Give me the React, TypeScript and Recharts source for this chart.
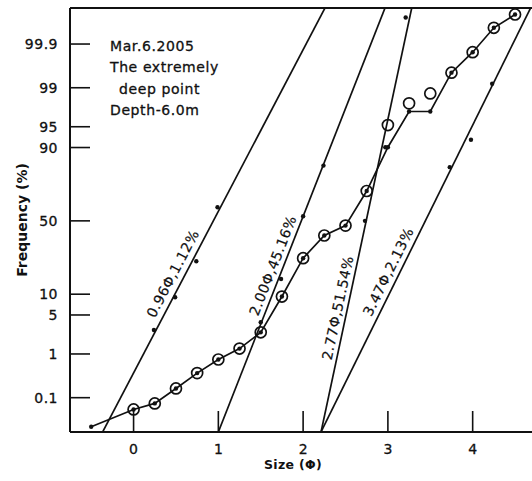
import {
  ComposedChart,
  Line,
  Scatter,
  XAxis,
  YAxis,
  ReferenceLine,
  ReferenceDot
} from "recharts"

// axis ticks
const sizeTicks = [0, 1, 2, 3, 4]
const freqTicks = [0.1, 1, 5, 10, 50, 90, 95, 99, 99.9]
const freqTickLabels = ["0.1", "1", "5", "10", "50", "90", "95", "99", "99.9"]

// cumulative curve (line with small dots)
const curvePhi = [-0.5, 0, 0.25, 0.5, 0.75, 1.0, 1.25, 1.5, 1.75, 2.0, 2.25, 2.5, 2.75, 3.0, 3.25, 3.5, 3.75, 4.0, 4.25, 4.5]
const curvePct = [0.016, 0.049, 0.071, 0.17, 0.39, 0.77, 1.28, 2.57, 9.3, 25.7, 39.9, 46.7, 69.9, 90.1, 97.2, 97.2, 99.52, 99.84, 99.963, 99.9845]

// measured frequencies (open circles)
const circlePhi = [0, 0.25, 0.5, 0.75, 1.0, 1.25, 1.5, 1.75, 2.0, 2.25, 2.5, 2.75, 3.0, 3.25, 3.5, 3.75, 4.0, 4.25, 4.5]
const circlePct = [0.049, 0.071, 0.17, 0.39, 0.77, 1.28, 2.57, 9.3, 25.7, 39.9, 46.7, 69.9, 95.3, 98.0, 98.7, 99.52, 99.84, 99.963, 99.9845]

// points of the sub-populations (small dots on the straight lines)
const subPhi = [0.24, 0.49, 0.74, 0.99, 1.5, 1.74, 2.0, 2.24, 2.73, 2.97, 3.21, 3.73, 3.98, 4.23]
const subPct = [2.83, 9.08, 24.0, 59.4, 3.81, 15.5, 53.2, 83.3, 50, 90.1, 99.981, 82.6, 92.2, 99.17]

// fitted sub-populations
const fitNames = ["0.96Φ,1.12%", "2.00Φ,45.16%", "2.77Φ,51.54%", "3.47Φ,2.13%"]
const fitMean = [0.941, 1.979, 2.744, 3.442]
const fitSigma = [0.354, 0.2653, 0.1444, 0.3337]

// layout
const W = 532
const H = 481
const LEFT = 70
const TOP = 8
const X_AXIS_H = 49
const PLOT_W = W - LEFT
const PLOT_H = H - TOP - X_AXIS_H
const BOTTOM = TOP + PLOT_H
const X_DOMAIN: [number, number] = [-0.75, 4.7]
const Y_DOMAIN: [number, number] = [-3.69, 3.72]
const PX_PHI = PLOT_W / (X_DOMAIN[1] - X_DOMAIN[0])
const PX_Z = PLOT_H / (Y_DOMAIN[1] - Y_DOMAIN[0])
const labelZ = [-0.92, -0.78, -1.52, -0.89]
const labelOffset = [13, 11, 10, 12]
const FONT = "'DejaVu Sans', sans-serif"
const INK = "#111"

// inverse normal cdf (Acklam)
function probit(p: number) {
  const a = [-39.69683028665376, 220.9460984245205, -275.9285104469687, 138.357751867269, -30.66479806614716, 2.506628277459239]
  const b = [-54.47609879822406, 161.5858368580409, -155.6989798598866, 66.80131188771972, -13.28068155922803]
  const c = [-0.007784894002430293, -0.3223964580411365, -2.400758277161838, -2.549732539343734, 4.374664141464968, 2.938163982698783]
  const d = [0.007784695709041462, 0.3224671290700398, 2.445134137142996, 3.754408661907416]
  const lo = 0.02425
  if (p < lo) {
    const q = Math.sqrt(-2 * Math.log(p))
    return (((((c[0] * q + c[1]) * q + c[2]) * q + c[3]) * q + c[4]) * q + c[5]) / ((((d[0] * q + d[1]) * q + d[2]) * q + d[3]) * q + 1)
  }
  if (p <= 1 - lo) {
    const q = p - 0.5
    const r = q * q
    return ((((((a[0] * r + a[1]) * r + a[2]) * r + a[3]) * r + a[4]) * r + a[5]) * q) / (((((b[0] * r + b[1]) * r + b[2]) * r + b[3]) * r + b[4]) * r + 1)
  }
  const q = Math.sqrt(-2 * Math.log(1 - p))
  return -(((((c[0] * q + c[1]) * q + c[2]) * q + c[3]) * q + c[4]) * q + c[5]) / ((((d[0] * q + d[1]) * q + d[2]) * q + d[3]) * q + 1)
}
const toZ = (pct: number) => probit(pct / 100)
const freqTickZ = freqTicks.map(toZ)

const curveData = curvePhi.map((x, i) => ({ x, y: toZ(curvePct[i]) }))
const circleData = circlePhi.map((x, i) => ({ x, y: toZ(circlePct[i]) }))
const subData = subPhi.map((x, i) => ({ x, y: toZ(subPct[i]) }))
const fitData = fitMean.map((m, i) => [
  { x: m - 4 * fitSigma[i], y: -4 },
  { x: m + 4 * fitSigma[i], y: 4 }
])

function XTick(props: any) {
  const { x, payload } = props
  return (
    <g>
      <line x1={x} x2={x} y1={BOTTOM} y2={BOTTOM - 21} stroke={INK} strokeWidth={1.6} />
      <text x={x} y={BOTTOM + 22} textAnchor="middle" fontSize={14} fontFamily={FONT} fill={INK} stroke={INK} strokeWidth={0.3}>
        {payload.value}
      </text>
    </g>
  )
}

function YTick(props: any) {
  const { y, payload } = props
  const k = freqTickZ.findIndex((v) => Math.abs(v - payload.value) < 1e-6)
  return (
    <g>
      <line x1={LEFT} x2={LEFT + 20} y1={y} y2={y} stroke={INK} strokeWidth={1.6} />
      <text x={LEFT - 12} y={y} dy="0.36em" textAnchor="end" fontSize={14} fontFamily={FONT} fill={INK} stroke={INK} strokeWidth={0.3} letterSpacing={0.5}>
        {k >= 0 ? freqTickLabels[k] : ""}
      </text>
    </g>
  )
}

function OpenCircle(props: any) {
  return <circle cx={props.cx} cy={props.cy} r={5.5} fill="none" stroke={INK} strokeWidth={1.7} />
}

function SmallDot(props: any) {
  return <circle cx={props.cx} cy={props.cy} r={2.2} fill={INK} />
}

function fitLabel(i: number) {
  const angle = (Math.atan(PX_Z / (PX_PHI * fitSigma[i])) * 180) / Math.PI
  return (props: any) => {
    const tx = props.cx - labelOffset[i]
    const ty = props.cy
    return (
      <text
        x={tx}
        y={ty}
        dy="0.36em"
        textAnchor="middle"
        fontSize={14}
        fontFamily={FONT}
        fill={INK}
        stroke={INK}
        strokeWidth={0.2}
        letterSpacing={0.5}
        transform={`rotate(${-angle} ${tx} ${ty})`}
      >
        {fitNames[i]}
      </text>
    )
  }
}

export default function App() {
  return (
    <div style={{ position: "absolute", left: 0, top: 0, width: W, height: H, background: "#fff" }}>
      <ComposedChart width={W} height={H} margin={{ top: TOP, right: 0, bottom: 0, left: 0 }}>
        <XAxis
          type="number"
          dataKey="x"
          domain={X_DOMAIN}
          allowDataOverflow
          ticks={sizeTicks}
          interval={0}
          height={X_AXIS_H}
          tickLine={false}
          tickSize={0}
          tickMargin={0}
          axisLine={{ stroke: INK, strokeWidth: 2 }}
          tick={<XTick />}
        />
        <YAxis
          type="number"
          domain={Y_DOMAIN}
          allowDataOverflow
          ticks={freqTickZ}
          interval={0}
          width={LEFT}
          tickLine={false}
          tickSize={0}
          tickMargin={0}
          axisLine={{ stroke: INK, strokeWidth: 2 }}
          tick={<YTick />}
        />
        <ReferenceLine y={Y_DOMAIN[1]} stroke={INK} strokeWidth={2} />

        {fitData.map((d, i) => (
          <Line
            key={fitNames[i]}
            data={d}
            dataKey="y"
            type="linear"
            stroke={INK}
            strokeWidth={1.7}
            dot={false}
            isAnimationActive={false}
          />
        ))}

        <Line
          data={curveData}
          dataKey="y"
          type="linear"
          stroke={INK}
          strokeWidth={1.7}
          dot={<SmallDot />}
          isAnimationActive={false}
        />
        <Scatter data={circleData} dataKey="y" shape={<OpenCircle />} isAnimationActive={false} />
        <Scatter data={subData} dataKey="y" shape={<SmallDot />} isAnimationActive={false} />

        {fitNames.map((name, i) => (
          <ReferenceDot
            key={name}
            x={fitMean[i] + labelZ[i] * fitSigma[i]}
            y={labelZ[i]}
            r={0}
            shape={fitLabel(i)}
          />
        ))}
      </ComposedChart>

      <svg width={W} height={H} style={{ position: "absolute", left: 0, top: 0, pointerEvents: "none" }}>
        <g fontFamily={FONT} fontSize={14} fill={INK} stroke={INK} strokeWidth={0.3} letterSpacing={0.6}>
          <text x={110} y={51}>Mar.6.2005</text>
          <text x={110} y={72}>The extremely</text>
          <text x={119} y={94}>deep point</text>
          <text x={110} y={115}>Depth-6.0m</text>
        </g>
        <text
          x={27}
          y={220}
          textAnchor="middle"
          fontFamily={FONT}
          fontSize={14}
          fontWeight="bold"
          fill={INK}
          transform="rotate(-90 27 220)"
        >
          Frequency (%)
        </text>
        <text x={293} y={469} textAnchor="middle" fontFamily={FONT} fontSize={12.5} fontWeight="bold" fill={INK} letterSpacing={0.3}>
          Size (Φ)
        </text>
      </svg>
    </div>
  )
}
